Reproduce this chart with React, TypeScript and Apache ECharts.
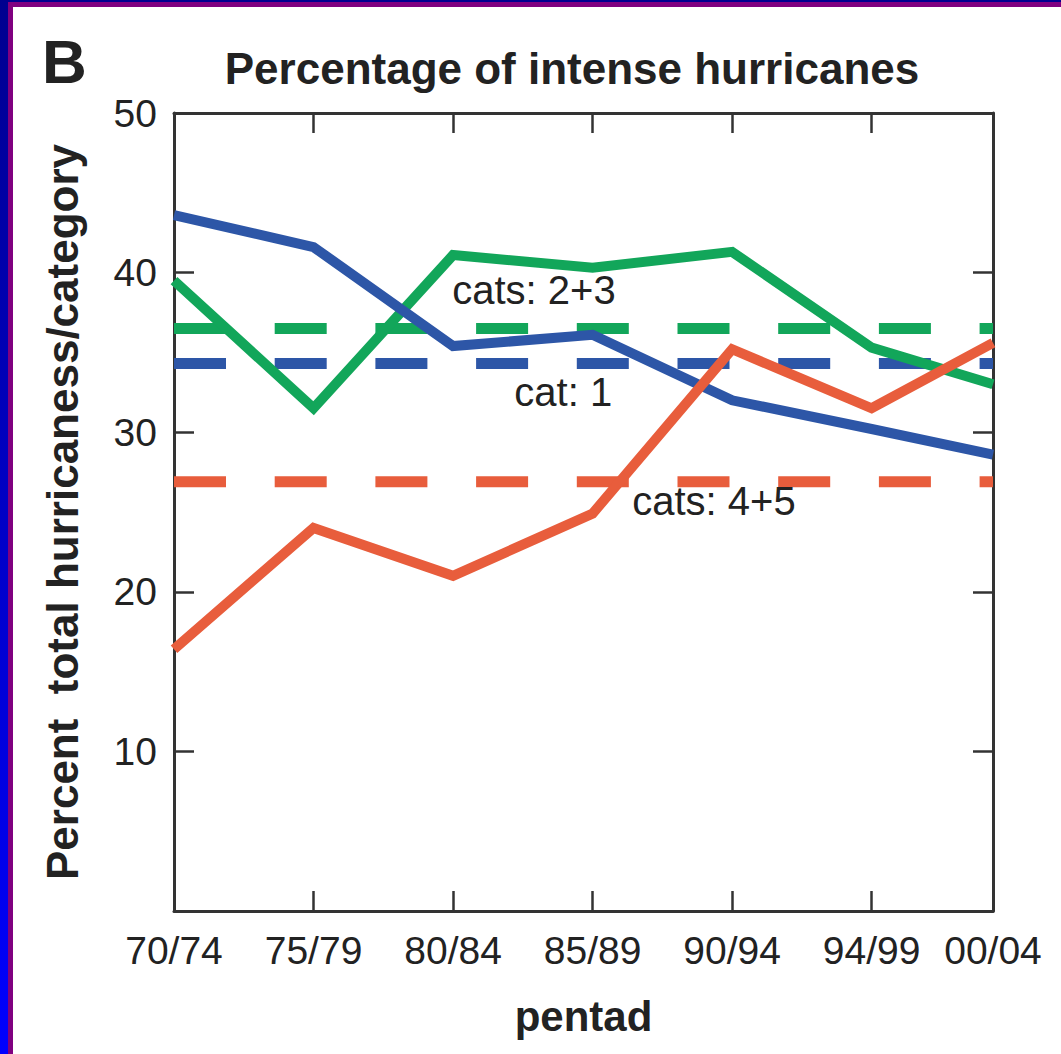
import { useEffect, useRef } from "react";
import * as echarts from "echarts";

// Pentads and their positions along the x axis (the last pentad sits a bit closer)
const pentads = ["70/74", "75/79", "80/84", "85/89", "90/94", "94/99", "00/04"];
const pentadPos = [0, 1, 2, 3, 4, 5, 5.87];

// Percent of total hurricanes per category group
const cat1 = [43.6, 41.6, 35.4, 36.1, 32.0, 30.2, 28.6];
const cats23 = [39.5, 31.5, 41.1, 40.3, 41.3, 35.3, 33.0];
const cats45 = [16.4, 24.0, 21.0, 24.9, 35.2, 31.5, 35.6];

// Long-term means (dashed reference lines)
const mean1 = 34.3;
const mean23 = 36.5;
const mean45 = 26.9;

const yTickValues = [10, 20, 30, 40];

const BLUE = "#2d56a7";
const GREEN = "#12a65a";
const RED = "#e85d3c";
const INK = "#222222";
const FONT = "'Liberation Sans', Arial, Helvetica, sans-serif";

const pairs = (ys: number[]) => ys.map((y, i) => [pentadPos[i], y]);
const flat = (v: number) => [
  [pentadPos[0], v],
  [pentadPos[pentadPos.length - 1], v],
];

export default function App() {
  const ref = useRef<HTMLDivElement>(null);

  useEffect(() => {
    if (!ref.current) return;
    const chart = echarts.init(ref.current, undefined, { renderer: "svg" });
    const xMax = pentadPos[pentadPos.length - 1];
    const axisLine = { show: true, onZero: false, lineStyle: { color: "#333", width: 3 } };
    const innerTick = (vals: number[]) => ({
      show: true,
      inside: true,
      length: 20,
      customValues: vals,
      lineStyle: { color: "#333", width: 2.5 },
    });

    const solid = (name: string, data: number[], color: string) => ({
      name,
      type: "line",
      data: pairs(data),
      showSymbol: false,
      symbol: "none",
      lineStyle: { color, width: 10, cap: "butt", join: "miter" },
      z: 3,
    });

    const dashed = (name: string, v: number, color: string, label: string, at: number[]) => ({
      name,
      type: "line",
      data: flat(v),
      showSymbol: false,
      symbol: "none",
      lineStyle: { color, width: 11, type: [52, 48.7], cap: "butt" },
      z: 2,
      markPoint: {
        symbol: "rect",
        symbolSize: 1,
        itemStyle: { color: "transparent" },
        label: {
          show: true,
          position: "inside",
          formatter: label,
          color: INK,
          fontSize: 40,
          fontFamily: FONT,
        },
        data: [{ coord: at }],
      },
    });

    chart.setOption({
      animation: false,
      backgroundColor: "#ffffff",
      grid: { left: 174, top: 113, right: 68, bottom: 143 },
      xAxis: [
        {
          type: "value",
          position: "bottom",
          min: 0,
          max: xMax,
          axisLine,
          splitLine: { show: false },
          axisTick: innerTick(pentadPos.slice(1, -1)),
          axisLabel: {
            customValues: pentadPos,
            formatter: (v: number) => {
              const i = pentadPos.findIndex((p) => Math.abs(p - v) < 1e-6);
              return i >= 0 ? pentads[i] : "";
            },
            fontSize: 39,
            color: INK,
            fontFamily: FONT,
            margin: 20,
          },
          name: "pentad",
          nameLocation: "middle",
          nameGap: 84,
          nameTextStyle: { fontSize: 42, fontWeight: "bold", color: INK, fontFamily: FONT },
        },
        {
          type: "value",
          position: "top",
          min: 0,
          max: xMax,
          axisLine,
          splitLine: { show: false },
          axisTick: innerTick(pentadPos.slice(1, -1)),
          axisLabel: { show: false },
        },
      ],
      yAxis: [
        {
          type: "value",
          position: "left",
          min: 0,
          max: 50,
          interval: 10,
          axisLine,
          splitLine: { show: false },
          axisTick: innerTick(yTickValues),
          axisLabel: {
            formatter: (v: number) => (v === 0 ? "" : String(v)),
            fontSize: 39,
            color: INK,
            fontFamily: FONT,
            margin: 17,
          },
          name: "Percent  total hurricaness/category",
          nameLocation: "middle",
          nameRotate: 90,
          nameGap: 90,
          nameTextStyle: { fontSize: 44, fontWeight: "bold", color: INK, fontFamily: FONT },
        },
        {
          type: "value",
          position: "right",
          min: 0,
          max: 50,
          interval: 10,
          axisLine,
          splitLine: { show: false },
          axisTick: innerTick(yTickValues),
          axisLabel: { show: false },
        },
      ],
      graphic: [
        {
          type: "rect",
          shape: { x: 0, y: 0, width: 8, height: 1054 },
          style: {
            fill: new echarts.graphic.LinearGradient(0, 0, 0, 1, [
              { offset: 0, color: "#00008f" },
              { offset: 1, color: "#0000ff" },
            ]),
          },
        },
        { type: "rect", shape: { x: 8, y: 2, width: 5, height: 1052 }, style: { fill: "#800080" } },
        { type: "rect", shape: { x: 0, y: 0, width: 1061, height: 2 }, style: { fill: "#00008f" } },
        { type: "rect", shape: { x: 8, y: 2, width: 1053, height: 5 }, style: { fill: "#800080" } },
        {
          type: "text",
          x: 42,
          y: 61,
          style: {
            text: "B",
            fontSize: 62,
            fontWeight: "bold",
            fontFamily: FONT,
            fill: INK,
            textVerticalAlign: "middle",
          },
        },
        {
          type: "text",
          x: 572,
          y: 68,
          style: {
            text: "Percentage of intense hurricanes",
            fontSize: 44,
            fontWeight: "bold",
            fontFamily: FONT,
            fill: INK,
            textAlign: "center",
            textVerticalAlign: "middle",
          },
        },
      ],
      series: [
        dashed("cats 2+3 mean", mean23, GREEN, "cats: 2+3", [2.58, 38.9]),
        dashed("cat 1 mean", mean1, BLUE, "cat: 1", [2.79, 32.5]),
        dashed("cats 4+5 mean", mean45, RED, "cats: 4+5", [3.87, 25.7]),
        solid("cats 2+3", cats23, GREEN),
        solid("cat 1", cat1, BLUE),
        solid("cats 4+5", cats45, RED),
      ],
    });

    return () => chart.dispose();
  }, []);

  return (
    <div
      ref={ref}
      style={{ position: "absolute", left: 0, top: 0, width: 1061, height: 1054 }}
    />
  );
}
